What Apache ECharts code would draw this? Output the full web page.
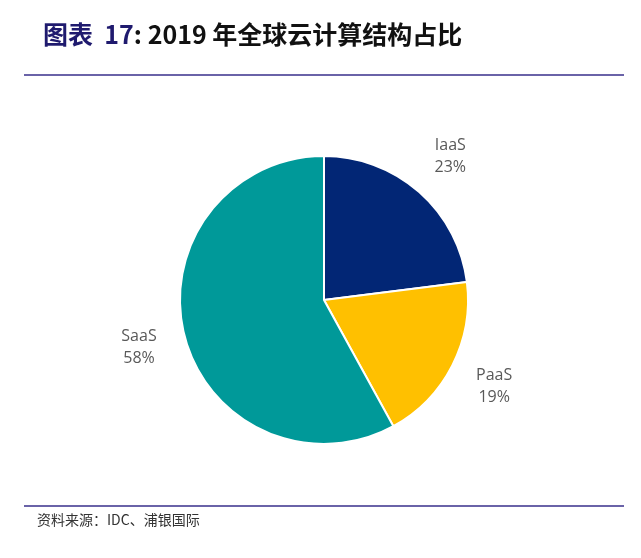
<!DOCTYPE html>
<html>
<head>
<meta charset="utf-8">
<script src="https://cdn.jsdelivr.net/npm/echarts@6/dist/echarts.min.js"></script>
<style>
  html, body { margin: 0; padding: 0; background: #fff; }
  #main { width: 641px; height: 558px; }
</style>
</head>
<body>
<div id="main"></div>
<script>
// 2019 年全球云计算结构占比
const categories = ["IaaS", "PaaS", "SaaS"];
const shares = [23, 19, 58];
const colors = ["#022675", "#FFC000", "#009999"];

const pieData = categories.map((name, i) => ({
  name: name,
  value: shares[i],
  itemStyle: { color: colors[i] }
}));

let myChart = echarts.init(document.getElementById("main"));
myChart.setOption({
  animation: false,
  title: {
    text: "{a|图表  17}{b|: 2019 年全球云计算结构占比}",
    left: 38,
    top: 17,
    textStyle: {
      rich: {
        a: { fontFamily: "Noto Sans CJK SC", fontWeight: "bold", fontSize: 25, color: "#1F1A6E" },
        b: { fontFamily: "Noto Sans CJK SC", fontWeight: "bold", fontSize: 25, color: "#111" }
      }
    }
  },
  graphic: [
    { type: "line", shape: { x1: 24, y1: 75, x2: 624, y2: 75 }, style: { stroke: "#6A63A8", lineWidth: 2 } },
    { type: "line", shape: { x1: 24, y1: 506, x2: 624, y2: 506 }, style: { stroke: "#6A63A8", lineWidth: 2 } },
    {
      type: "text", left: 37, top: 513,
      style: { text: "资料来源：IDC、浦银国际", font: "14px 'Noto Sans CJK SC'", fill: "#333" }
    }
  ],
  series: [
    {
      type: "pie",
      center: [324, 300],
      radius: [0, 144],
      startAngle: 90,
      clockwise: true,
      silent: true,
      label: { show: false },
      labelLine: { show: false },
      itemStyle: { borderColor: "#fff", borderWidth: 2 },
      data: pieData
    },
    {
      // transparent ring used only to place the labels around the pie
      type: "pie",
      center: [324, 300],
      radius: [0, 376],
      startAngle: 90,
      clockwise: true,
      silent: true,
      itemStyle: { color: "rgba(0,0,0,0)" },
      label: {
        show: true,
        position: "inside",
        formatter: "{b}\n{c}%",
        fontFamily: "Open Sans",
        fontSize: 16,
        lineHeight: 22,
        color: "#595959"
      },
      labelLine: { show: false },
      data: categories.map((name, i) => ({ name: name, value: shares[i] }))
    }
  ]
});
</script>
</body>
</html>
